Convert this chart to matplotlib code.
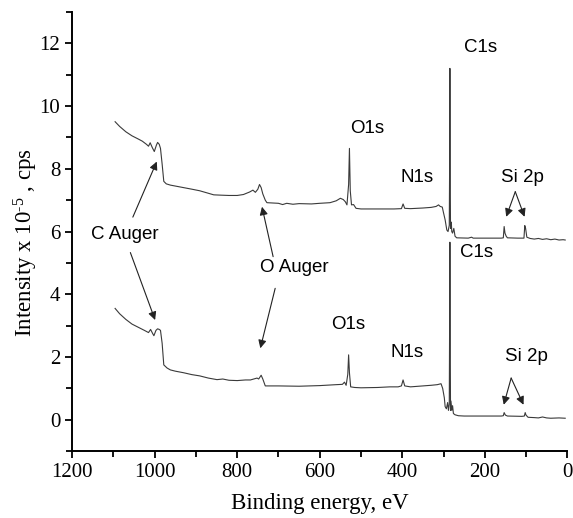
import matplotlib
matplotlib.use("Agg")
import matplotlib.pyplot as plt
from matplotlib.ticker import MultipleLocator

plt.rcParams["mathtext.fontset"] = "custom"
plt.rcParams["mathtext.rm"] = "Liberation Serif"
plt.rcParams["mathtext.it"] = "Liberation Serif:italic"

# upper spectrum (binding energy eV, intensity x 1e-5 cps)
upper_e = [1096, 1085, 1070, 1055, 1040, 1030, 1020, 1015, 1011, 1006, 1001, 996, 993, 989, 986,
           982, 978, 972, 962, 950, 930, 910, 891, 870, 857, 840, 820, 800, 785, 770, 762, 756,
           750, 746, 742, 738, 732, 728, 700, 690, 680, 665, 650, 620, 600, 575, 560, 550, 543,
           538, 534, 530, 528, 526, 523, 518, 512, 500, 450, 420, 402, 398, 394, 380, 350, 330,
           318, 312, 308, 303, 300, 296, 292, 289, 286, 285.2, 284.5, 283.8, 283, 281, 280, 278,
           275, 272, 268, 240, 232, 228, 160, 155, 153, 151, 148, 145, 120, 105, 103, 101, 98,
           90, 80, 70, 60, 50, 40, 30, 20, 10, 5]
upper_i = [9.50, 9.35, 9.18, 9.05, 8.95, 8.88, 8.78, 8.72, 8.83, 8.68, 8.55, 8.75, 8.84, 8.78, 8.65,
           8.15, 7.60, 7.52, 7.48, 7.45, 7.40, 7.35, 7.30, 7.22, 7.17, 7.16, 7.15, 7.15, 7.18, 7.26,
           7.32, 7.25, 7.35, 7.50, 7.40, 7.20, 7.00, 6.92, 6.90, 6.86, 6.90, 6.87, 6.89, 6.88, 6.90,
           6.92, 6.98, 7.06, 7.02, 6.95, 6.85, 7.50, 8.65, 7.30, 6.85, 6.86, 6.74, 6.72, 6.72,
           6.72, 6.73, 6.88, 6.74, 6.73, 6.75, 6.77, 6.80, 6.85, 6.80, 6.78, 6.60, 6.37, 6.05,
           6.00, 6.20, 8.00, 11.20, 8.00, 6.10, 6.30, 6.00, 5.95, 6.10, 5.85, 5.80, 5.79, 5.82,
           5.79, 5.79, 5.80, 6.16, 5.95, 5.85, 5.80, 5.79, 5.79, 6.19, 6.10, 5.82, 5.78, 5.76,
           5.78, 5.75, 5.77, 5.74, 5.76, 5.73, 5.74, 5.73]

# lower spectrum
lower_e = [1096, 1085, 1070, 1055, 1040, 1025, 1015, 1010, 1005, 1002, 997, 993, 989, 986, 982,
           978, 970, 962, 950, 930, 910, 891, 870, 849, 835, 820, 800, 780, 768, 760, 752, 748,
           742, 738, 732, 700, 650, 600, 560, 545, 540, 536, 532, 530, 528, 525, 515, 500, 460,
           430, 410, 402, 398, 394, 380, 350, 330, 315, 306, 302, 298, 296, 293, 290, 288, 286,
           285.2, 284.5, 283.8, 283, 282, 280, 278, 276, 272, 264, 250, 200, 160, 155, 153, 150,
           145, 110, 104, 102, 100, 95, 80, 70, 60, 50, 40, 20, 5]
lower_i = [3.55, 3.38, 3.20, 3.05, 2.95, 2.85, 2.78, 2.88, 2.75, 2.68, 2.85, 2.90, 2.88, 2.85, 2.44,
           1.75, 1.65, 1.59, 1.55, 1.50, 1.44, 1.40, 1.33, 1.28, 1.30, 1.26, 1.25, 1.27, 1.27,
           1.30, 1.33, 1.30, 1.42, 1.30, 1.08, 1.08, 1.07, 1.09, 1.12, 1.13, 1.20, 1.10, 1.45,
           2.07, 1.50, 1.05, 1.03, 1.02, 1.03, 1.05, 1.05, 1.08, 1.27, 1.08, 1.05, 1.08, 1.10,
           1.12, 1.15, 1.00, 0.70, 0.42, 0.35, 0.55, 0.30, 0.50, 3.00, 5.66, 3.00, 0.30, 0.60,
           0.30, 0.45, 0.20, 0.16, 0.13, 0.12, 0.12, 0.12, 0.13, 0.23, 0.15, 0.12, 0.11, 0.12,
           0.23, 0.15, 0.08, 0.07, 0.06, 0.09, 0.06, 0.05, 0.06, 0.05]

# peak labels: text, energy, intensity
labels = ["C1s", "O1s", "N1s", "Si 2p", "C1s", "O1s", "N1s", "Si 2p"]
label_e = [211, 484, 365, 108, 219, 530, 389, 100]
label_i = [11.88, 9.27, 7.72, 7.71, 5.33, 3.03, 2.15, 2.02]

fig = plt.figure(figsize=(5.73, 5.18), dpi=100)
ax = fig.add_axes([0.126, 0.129, 0.864, 0.848])

ax.plot(upper_e, upper_i, color="#3a3a3a", lw=0.8)
ax.plot(lower_e, lower_i, color="#3a3a3a", lw=0.8)

ax.set_xlim(1200, 0)
ax.set_ylim(-1, 13)
ax.xaxis.set_major_locator(MultipleLocator(200))
ax.xaxis.set_minor_locator(MultipleLocator(100))
ax.yaxis.set_major_locator(MultipleLocator(2))
ax.yaxis.set_minor_locator(MultipleLocator(1))
ax.spines["top"].set_visible(False)
ax.spines["right"].set_visible(False)
for s in ["left", "bottom"]:
    ax.spines[s].set_linewidth(1.4)
ax.tick_params(which="major", direction="out", length=5, width=1.3)
ax.tick_params(which="minor", direction="out", length=4, width=1.3)
for t in ax.get_xticklabels() + ax.get_yticklabels():
    t.set_family("Liberation Serif")
    t.set_fontsize(15)

ax.set_xlabel("Binding energy, eV", family="Liberation Serif", fontsize=16.5, labelpad=8)
ax.set_ylabel("Intensity x 10$^{\\text{-5}}$ , cps", family="Liberation Serif", fontsize=16.5)
ax.yaxis.set_label_coords(-0.065, 0.475)

sans = dict(family="Liberation Sans", fontsize=13.5, ha="center", va="center")
for txt, e, i in zip(labels, label_e, label_i):
    ax.text(e, i, txt, **sans)

arrow = dict(arrowstyle="-|>", color="#222222", lw=0.8, mutation_scale=12, shrinkA=0, shrinkB=0)

ax.text(1073, 5.92, "C Auger", **sans)
ax.annotate("", xy=(995, 8.23), xytext=(1053, 6.46), arrowprops=arrow)
ax.annotate("", xy=(999, 3.18), xytext=(1059, 5.33), arrowprops=arrow)

ax.text(662, 4.86, "O Auger", **sans)
ax.annotate("", xy=(740, 6.79), xytext=(713, 5.20), arrowprops=arrow)
ax.annotate("", xy=(744, 2.28), xytext=(708, 4.19), arrowprops=arrow)

# Si 2p arrows
ax.annotate("", xy=(148, 6.47), xytext=(126, 7.27), arrowprops=arrow)
ax.annotate("", xy=(103.5, 6.47), xytext=(126, 7.27), arrowprops=arrow)
ax.annotate("", xy=(154, 0.48), xytext=(136, 1.33), arrowprops=arrow)
ax.annotate("", xy=(106, 0.48), xytext=(136, 1.33), arrowprops=arrow)

fig.savefig("out.png", dpi=100)
